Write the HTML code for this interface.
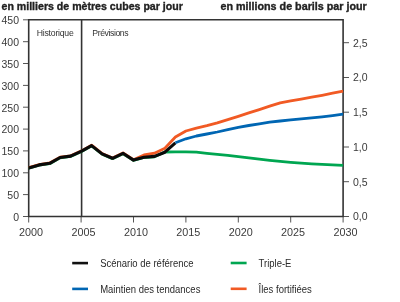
<!DOCTYPE html>
<html><head><meta charset="utf-8"><style>
html,body{margin:0;padding:0;background:#fff;width:400px;height:302px;overflow:hidden}
svg{display:block;will-change:transform;font-family:"Liberation Sans",sans-serif}
</style></head><body>
<svg width="400" height="302" viewBox="0 0 400 302">
<g stroke="#555" stroke-width="1">
<line x1="23" y1="216.5" x2="28.7" y2="216.5"/>
<line x1="23" y1="194.6" x2="28.7" y2="194.6"/>
<line x1="23" y1="172.8" x2="28.7" y2="172.8"/>
<line x1="23" y1="150.9" x2="28.7" y2="150.9"/>
<line x1="23" y1="129.1" x2="28.7" y2="129.1"/>
<line x1="23" y1="107.2" x2="28.7" y2="107.2"/>
<line x1="23" y1="85.4" x2="28.7" y2="85.4"/>
<line x1="23" y1="63.5" x2="28.7" y2="63.5"/>
<line x1="23" y1="41.7" x2="28.7" y2="41.7"/>
<line x1="23" y1="19.8" x2="28.7" y2="19.8"/>
<line x1="343.1" y1="216.5" x2="349" y2="216.5"/>
<line x1="343.1" y1="181.7" x2="349" y2="181.7"/>
<line x1="343.1" y1="147.0" x2="349" y2="147.0"/>
<line x1="343.1" y1="112.2" x2="349" y2="112.2"/>
<line x1="343.1" y1="77.5" x2="349" y2="77.5"/>
<line x1="343.1" y1="42.7" x2="349" y2="42.7"/>
<line x1="28.7" y1="216.5" x2="28.7" y2="222.5"/>
<line x1="81.1" y1="216.5" x2="81.1" y2="222.5"/>
<line x1="133.5" y1="216.5" x2="133.5" y2="222.5"/>
<line x1="185.9" y1="216.5" x2="185.9" y2="222.5"/>
<line x1="238.3" y1="216.5" x2="238.3" y2="222.5"/>
<line x1="290.7" y1="216.5" x2="290.7" y2="222.5"/>
<line x1="343.1" y1="216.5" x2="343.1" y2="222.5"/>
</g>
<path d="M28.7,19.8 H343.1 V216.5 H28.7 Z M81.6,19.8 V216.5" fill="none" stroke="#333" stroke-width="1.6"/>
<polyline points="28.7,168.2 39.2,165.2 49.7,163.7 60.1,157.8 70.6,156.4 81.1,151.8 91.6,145.9 102.1,154.2 112.5,158.7 123.0,153.7 133.5,160.4 144.0,157.5 154.5,156.8 164.9,152.0 175.4,151.8 185.9,151.9 196.4,152.1 206.9,153.3 217.3,154.3 227.8,155.3 238.3,156.6 248.8,157.9 259.3,159.2 269.7,160.4 280.2,161.4 290.7,162.3 301.2,163.1 311.7,163.8 322.1,164.4 332.6,164.9 343.1,165.3" fill="none" stroke="#00a651" stroke-width="2.8" stroke-linejoin="round"/>
<polyline points="28.7,167.6 39.2,164.6 49.7,163.0 60.1,157.2 70.6,155.8 81.1,151.1 91.6,145.2 102.1,153.6 112.5,158.0 123.0,153.0 133.5,159.8 144.0,155.0 154.5,153.2 164.9,148.2 175.4,137.0 185.9,131.0 196.4,128.1 206.9,125.6 217.3,122.8 227.8,119.6 238.3,116.3 248.8,112.9 259.3,109.6 269.7,106.1 280.2,102.8 290.7,100.9 301.2,99.1 311.7,97.2 322.1,95.3 332.6,93.2 343.1,91.1" fill="none" stroke="#f15a24" stroke-width="2.8" stroke-linejoin="round"/>
<polyline points="28.7,167.9 39.2,164.9 49.7,163.3 60.1,157.5 70.6,156.1 81.1,151.4 91.6,145.6 102.1,153.9 112.5,158.3 123.0,153.3 133.5,160.1 144.0,157.2 154.5,156.4 164.9,152.2 175.4,142.9" fill="none" stroke="#0a0a0a" stroke-width="3.1" stroke-linejoin="round"/>
<polyline points="175.4,142.7 185.9,138.8 196.4,136.0 206.9,134.0 217.3,132.0 227.8,129.6 238.3,127.4 248.8,125.5 259.3,123.8 269.7,122.2 280.2,121.0 290.7,119.9 301.2,118.9 311.7,117.9 322.1,116.8 332.6,115.6 343.1,114.2" fill="none" stroke="#0066b3" stroke-width="2.8" stroke-linejoin="round"/>
<line x1="72.2" y1="263.1" x2="88" y2="263.1" stroke="#111" stroke-width="2.6"/>
<line x1="72.2" y1="288.9" x2="88" y2="288.9" stroke="#0066b3" stroke-width="2.6"/>
<line x1="230.7" y1="263" x2="246.6" y2="263" stroke="#00a651" stroke-width="2.6"/>
<line x1="230.7" y1="288.8" x2="246.6" y2="288.8" stroke="#f15a24" stroke-width="2.6"/>
<text x="1.5" y="10.1" font-weight="bold" font-size="10.6" fill="#222" stroke="#222" stroke-width="0.35">en milliers de mètres cubes par jour</text>
<text x="366.8" y="10.1" text-anchor="end" font-weight="bold" font-size="10.75" fill="#222" stroke="#222" stroke-width="0.35">en millions de barils par jour</text>
<text x="19" y="220.8" text-anchor="end" font-size="10.5" fill="#3a3a3a">0</text>
<text x="19" y="198.9" text-anchor="end" font-size="10.5" fill="#3a3a3a">50</text>
<text x="19" y="177.1" text-anchor="end" font-size="10.5" fill="#3a3a3a">100</text>
<text x="19" y="155.2" text-anchor="end" font-size="10.5" fill="#3a3a3a">150</text>
<text x="19" y="133.4" text-anchor="end" font-size="10.5" fill="#3a3a3a">200</text>
<text x="19" y="111.5" text-anchor="end" font-size="10.5" fill="#3a3a3a">250</text>
<text x="19" y="89.7" text-anchor="end" font-size="10.5" fill="#3a3a3a">300</text>
<text x="19" y="67.8" text-anchor="end" font-size="10.5" fill="#3a3a3a">350</text>
<text x="19" y="46.0" text-anchor="end" font-size="10.5" fill="#3a3a3a">400</text>
<text x="19" y="24.1" text-anchor="end" font-size="10.5" fill="#3a3a3a">450</text>
<text x="353" y="220.3" font-size="10.5" fill="#3a3a3a">0,0</text>
<text x="353" y="185.5" font-size="10.5" fill="#3a3a3a">0,5</text>
<text x="353" y="150.8" font-size="10.5" fill="#3a3a3a">1,0</text>
<text x="353" y="116.0" font-size="10.5" fill="#3a3a3a">1,5</text>
<text x="353" y="81.3" font-size="10.5" fill="#3a3a3a">2,0</text>
<text x="353" y="46.5" font-size="10.5" fill="#3a3a3a">2,5</text>
<text x="31.1" y="236" text-anchor="middle" font-size="10.8" fill="#3a3a3a">2000</text>
<text x="83.5" y="236" text-anchor="middle" font-size="10.8" fill="#3a3a3a">2005</text>
<text x="135.9" y="236" text-anchor="middle" font-size="10.8" fill="#3a3a3a">2010</text>
<text x="188.3" y="236" text-anchor="middle" font-size="10.8" fill="#3a3a3a">2015</text>
<text x="240.7" y="236" text-anchor="middle" font-size="10.8" fill="#3a3a3a">2020</text>
<text x="293.1" y="236" text-anchor="middle" font-size="10.8" fill="#3a3a3a">2025</text>
<text x="345.5" y="236" text-anchor="middle" font-size="10.8" fill="#3a3a3a">2030</text>
<text transform="translate(36.7 35.6) scale(1 1.1)" font-size="8.7" letter-spacing="-0.22" fill="#333">Historique</text>
<text transform="translate(92.3 35.6) scale(1 1.1)" font-size="8.7" letter-spacing="-0.42" fill="#333">Prévisions</text>
<text transform="translate(100.2 266.9) scale(1 1.1)" font-size="9.5" fill="#2a2a2a">Scénario de référence</text>
<text transform="translate(100.2 292.8) scale(1 1.1)" font-size="9.5" fill="#2a2a2a">Maintien des tendances</text>
<text transform="translate(258.6 266.9) scale(1 1.1)" font-size="9.5" fill="#2a2a2a">Triple-E</text>
<text transform="translate(258.6 292.8) scale(1 1.1)" font-size="9.5" fill="#2a2a2a">Îles fortifiées</text>
</svg>
</body></html>
